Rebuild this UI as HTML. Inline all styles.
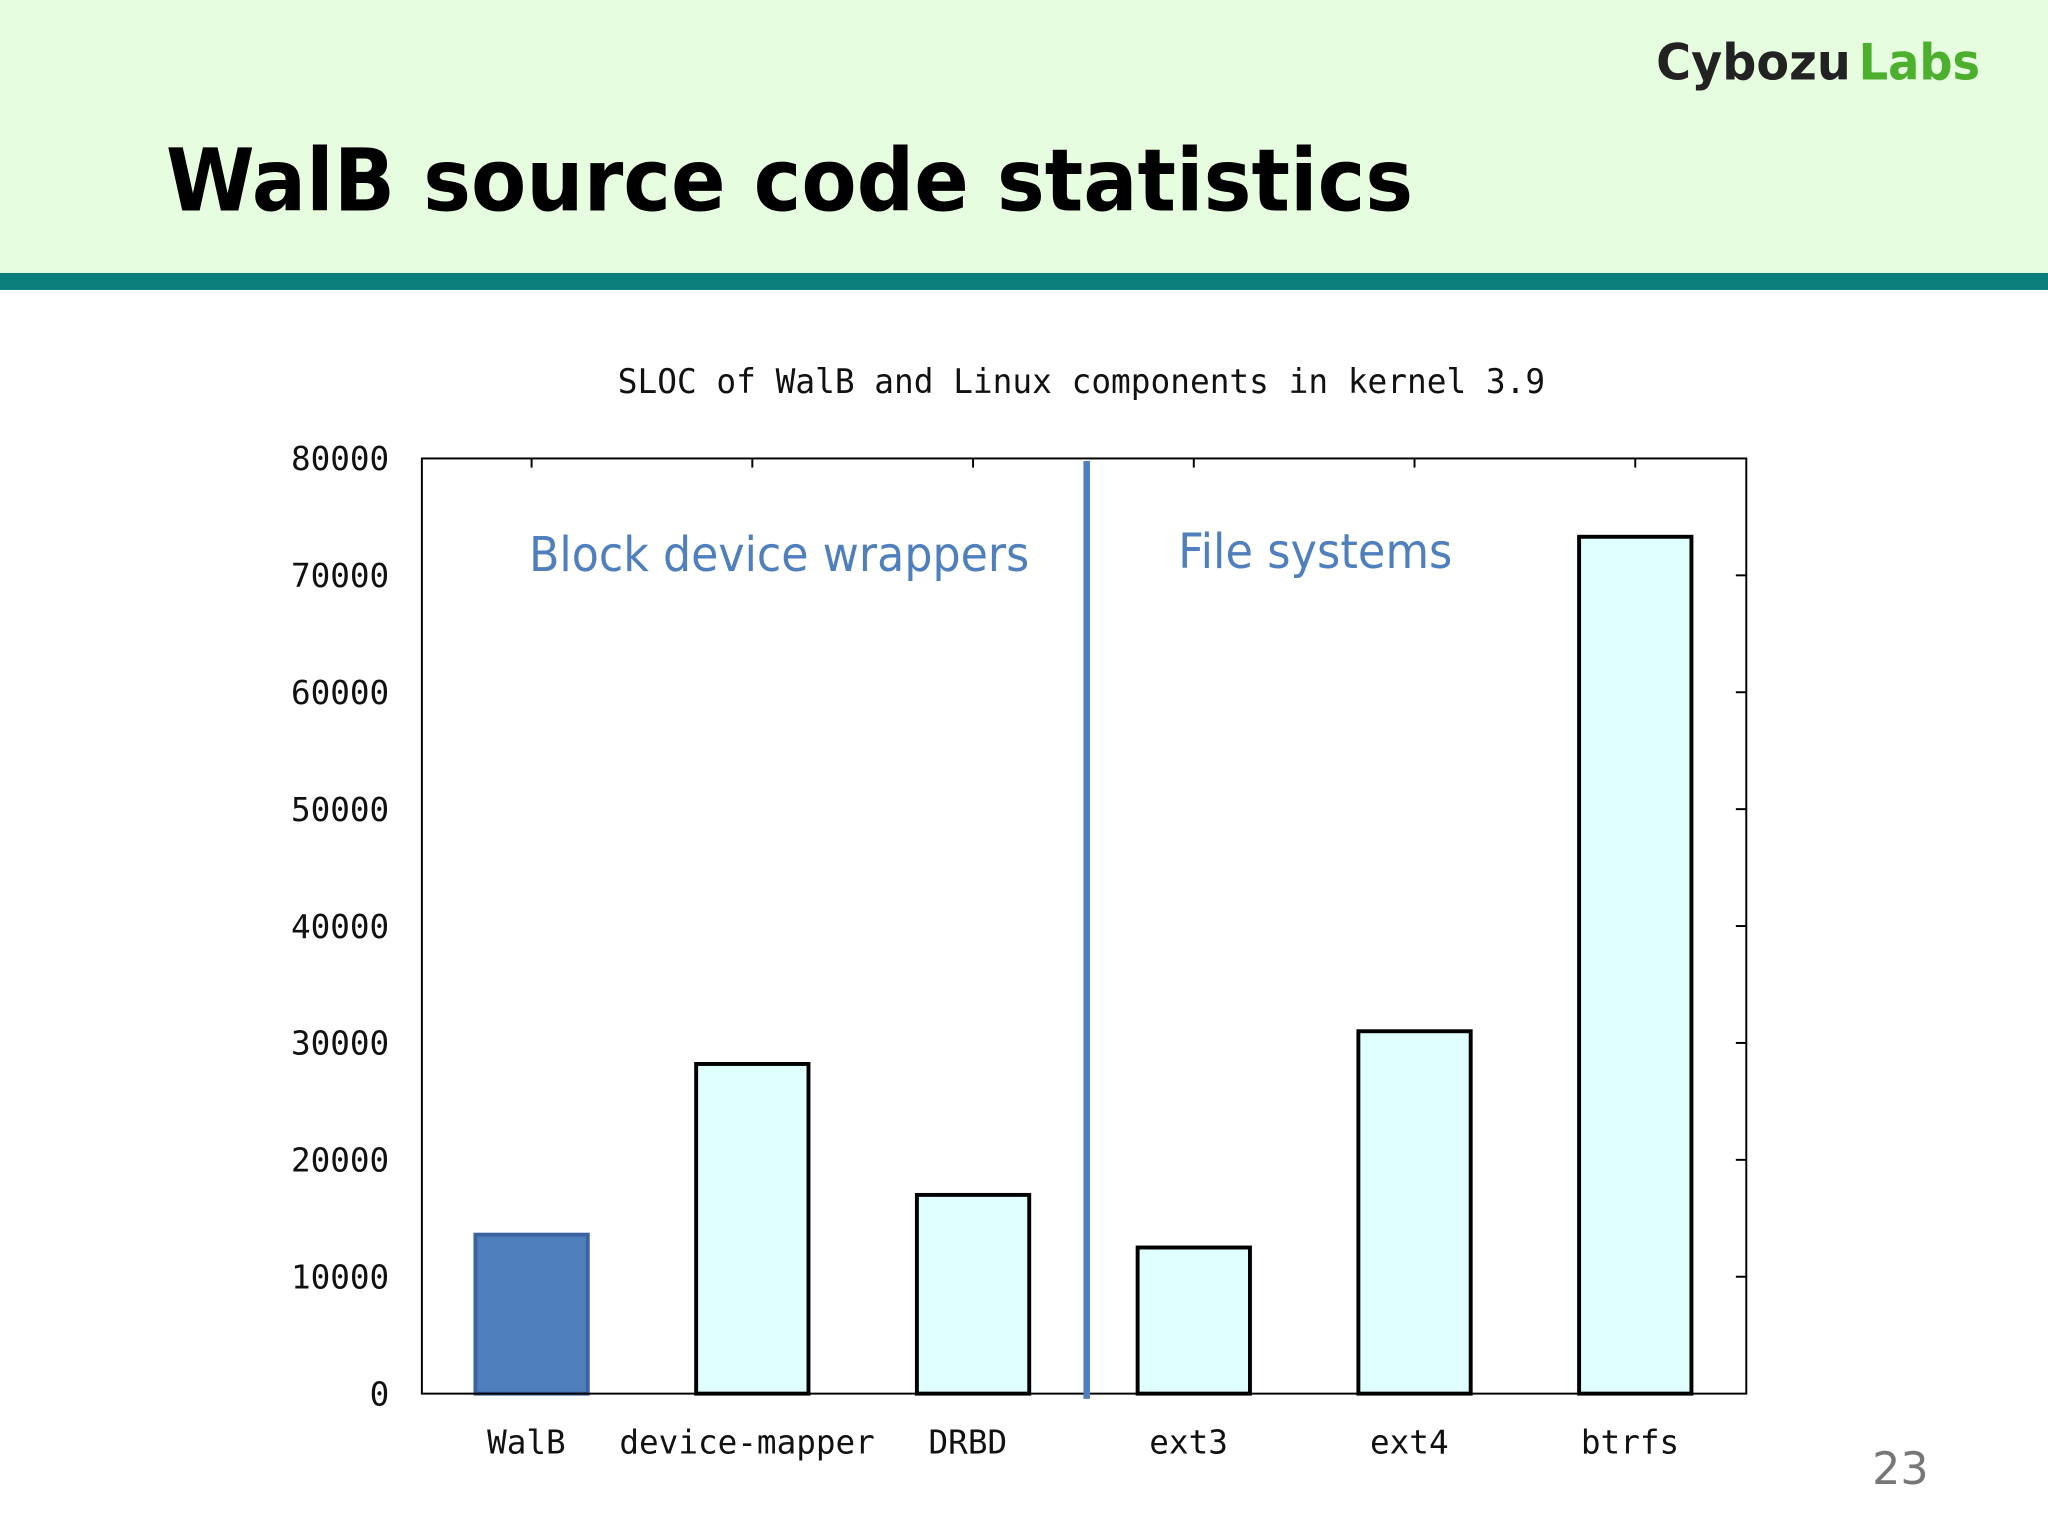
<!DOCTYPE html>
<html><head><meta charset="utf-8"><style>
html,body{margin:0;padding:0;background:#fff}
svg{display:block}
</style></head><body>
<svg width="2048" height="1536" viewBox="0 0 1568 1176" xmlns="http://www.w3.org/2000/svg">
<rect x="0" y="0" width="1568" height="209" fill="#e6fde0"/>
<rect x="0" y="209" width="1568" height="13" fill="#0b7f7c"/>
<text x="127" y="161" textLength="955" lengthAdjust="spacingAndGlyphs" font-family="'DejaVu Sans','Liberation Sans',sans-serif" font-weight="bold" font-size="66" fill="#000">WalB source code statistics</text>
<text x="1268" y="61" textLength="149" lengthAdjust="spacingAndGlyphs" font-family="'DejaVu Sans','Liberation Sans',sans-serif" font-weight="bold" font-size="38" fill="#222">Cybozu</text>
<text x="1423" y="61" textLength="93" lengthAdjust="spacingAndGlyphs" font-family="'DejaVu Sans','Liberation Sans',sans-serif" font-weight="bold" font-size="38" fill="#4caf2e">Labs</text>
<text x="473" y="301" textLength="710" lengthAdjust="spacingAndGlyphs" font-family="'DejaVu Sans Mono','Liberation Mono',monospace" font-size="26" fill="#111">SLOC of WalB and Linux components in kernel 3.9</text>
<g id="chart"></g>
<text x="1455" y="1136" text-anchor="middle" font-family="'DejaVu Sans','Liberation Sans',sans-serif" font-size="34" fill="#777">23</text>
</svg>
<script>
const categories = ['WalB','device-mapper','DRBD','ext3','ext4','btrfs'];
const values = [13600, 28200, 17000, 12500, 31000, 73300];
const yTicks = [0,10000,20000,30000,40000,50000,60000,70000,80000];
const highlight = ['WalB'];
const NS='http://www.w3.org/2000/svg';
const g=document.getElementById('chart');
const X0=323,X1=1337,Y0=1067,Y1=351,YMAX=80000;
function y(v){return Y0-(v/YMAX)*(Y0-Y1);}
function x(i){return 407+i*169;}
function el(t,a,txt){const e=document.createElementNS(NS,t);for(const k in a)e.setAttribute(k,a[k]);if(txt!=null)e.textContent=txt;g.appendChild(e);return e;}
const mono="'DejaVu Sans Mono','Liberation Mono',monospace";
yTicks.forEach(v=>{
  const t=el('text',{x:298,y:y(v)+9,'text-anchor':'end','font-family':mono,'font-size':25,fill:'#111'},String(v));
  
  
  if(v>0&&v<YMAX){
    const l=el('line',{x1:X1-8,x2:X1,y1:y(v),y2:y(v),stroke:'#000','stroke-width':1.5});
    
    
  }
});
categories.forEach((c,i)=>{
  const tk=el('line',{x1:x(i),x2:x(i),y1:Y1,y2:Y1+7,stroke:'#000','stroke-width':1.5});
  
  
  const hi=highlight.includes(c);
  const b=el('rect',{x:x(i)-43,y:y(values[i]),width:86,height:Y0-y(values[i]),fill:hi?'#4f7fbd':'#e0ffff',stroke:hi?'#3a63a0':'#000','stroke-width':3});
  
  
  const t=el('text',{x:x(i)-4,y:1113,'text-anchor':'middle','font-family':mono,'font-size':25,fill:'#111'},c);
  
  
});
const frame=el('rect',{x:X0,y:Y1,width:X1-X0,height:Y0-Y1,fill:'none',stroke:'#000','stroke-width':1.5});


const d=el('line',{x1:832,x2:832,y1:353,y2:1071,stroke:'#4f7fbd','stroke-width':5});


const a1=el('text',{x:405,y:437,textLength:383,lengthAdjust:'spacingAndGlyphs','font-family':"'DejaVu Sans','Liberation Sans',sans-serif",'font-size':37,fill:'#4f7fbd'},'Block device wrappers');


const a2=el('text',{x:902,y:435,textLength:210,lengthAdjust:'spacingAndGlyphs','font-family':"'DejaVu Sans','Liberation Sans',sans-serif",'font-size':37,fill:'#4f7fbd'},'File systems');


</script>
</body></html>
